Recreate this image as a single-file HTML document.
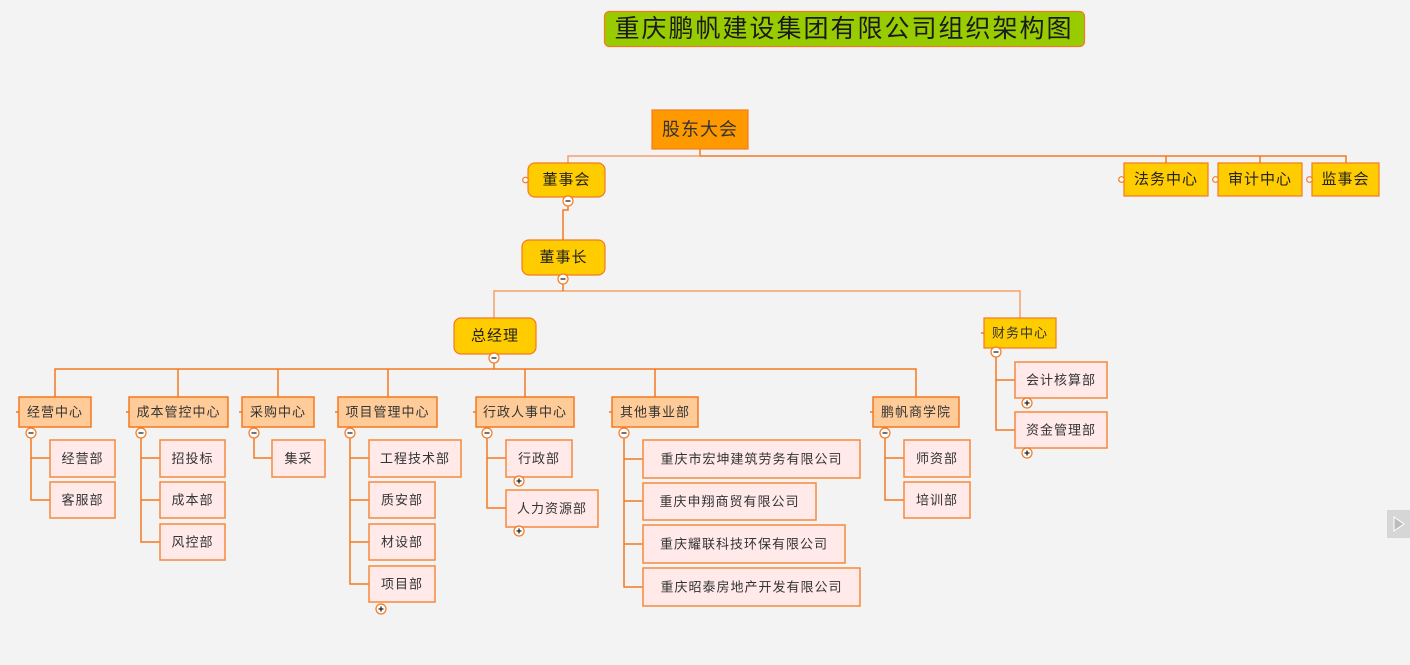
<!DOCTYPE html>
<html><head><meta charset="utf-8"><style>
html,body{margin:0;padding:0;background:#f3f3f3;}
svg{display:block;}
text{font-family:"Liberation Sans","Noto Sans CJK SC",sans-serif;text-anchor:middle;dominant-baseline:central;fill:#333;}
.ln{stroke:#f47920;stroke-width:1.5;fill:none;}
.lt{stroke:#f5a06a;stroke-width:1.5;fill:none;}
.y{fill:#ffcc00;stroke:#f47920;stroke-width:1.2;}
.o2{fill:#ffcc99;stroke:#f47920;stroke-width:1.5;}
.lf{fill:#ffe9e9;stroke:#f58a3c;stroke-width:1.5;}
.c{fill:#fff;stroke:#f47920;stroke-width:1.2;}
.t13{font-size:13px;letter-spacing:1px;}
.t15{font-size:15px;letter-spacing:1px;fill:#222;}
</style></head><body>
<svg width="1410" height="665" viewBox="0 0 1410 665" xmlns="http://www.w3.org/2000/svg">
<rect x="0" y="0" width="1410" height="665" fill="#f3f3f3"/>
<rect x="604.5" y="11.5" width="480" height="35" rx="5" fill="#99cc00" stroke="#f47920" stroke-width="1.2"/>
<text x="844" y="29" style="font-size:25px;letter-spacing:2px;fill:#1a1a1a">重庆鹏帆建设集团有限公司组织架构图</text>

<path class="ln" d="M700 149 V156 H1346 V163 M1166 156 V163 M1260 156 V163"/>
<path class="lt" d="M700 156 H568 V163"/>
<path class="ln" d="M568 197 V210 H563 V240"/>
<path class="lt" d="M494 318 V291 H1020 V318"/>
<path class="ln" d="M563 280 V291"/>
<path class="ln" d="M494 354 V369 M55 397 V369 H916 V397 M178 369 V397 M278 369 V397 M388 369 V397 M525 369 V397 M655 369 V397"/>

<path class="ln" d="M31 433 V500 H50 M31 458 H50"/>
<path class="ln" d="M141 433 V542 H160 M141 458 H160 M141 500 H160"/>
<path class="ln" d="M254 433 V458 H272"/>
<path class="ln" d="M350 433 V584 H369 M350 458 H369 M350 500 H369 M350 542 H369"/>
<path class="ln" d="M487 433 V508 H506 M487 458 H506"/>
<path class="ln" d="M624 433 V587 H643 M624 459 H643 M624 501 H643 M624 544 H643"/>
<path class="ln" d="M885 433 V500 H904 M885 458 H904"/>
<path class="ln" d="M996 352 V430 H1015 M996 380 H1015"/>

<rect x="652" y="110" width="96" height="39" fill="#ff9900" stroke="#f47920" stroke-width="1.2"/>
<text x="700" y="129.5" style="font-size:18px;letter-spacing:1px;fill:#333">股东大会</text>
<rect class="y" x="528" y="163" width="77" height="34" rx="7"/><text class="t15" x="566.5" y="180">董事会</text>
<rect class="y" x="522" y="240" width="83" height="35" rx="7"/><text class="t15" x="563.5" y="257.5">董事长</text>
<rect class="y" x="454" y="318" width="82" height="36" rx="7"/><text class="t15" x="495" y="336">总经理</text>
<rect class="y" x="1124" y="163" width="84" height="33"/><text class="t15" x="1166" y="179.5">法务中心</text>
<rect class="y" x="1218" y="163" width="84" height="33"/><text class="t15" x="1260" y="179.5">审计中心</text>
<rect class="y" x="1312" y="163" width="67" height="33"/><text class="t15" x="1345.5" y="179.5">监事会</text>
<rect class="y" x="984" y="318" width="72" height="30"/><text class="t13" x="1020" y="333">财务中心</text>

<rect class="o2" x="19" y="397" width="72" height="30"/><text class="t13" x="55" y="412">经营中心</text>
<rect class="o2" x="129" y="397" width="99" height="30"/><text class="t13" x="178.5" y="412">成本管控中心</text>
<rect class="o2" x="242" y="397" width="72" height="30"/><text class="t13" x="278" y="412">采购中心</text>
<rect class="o2" x="338" y="397" width="99" height="30"/><text class="t13" x="387.5" y="412">项目管理中心</text>
<rect class="o2" x="476" y="397" width="98" height="30"/><text class="t13" x="525" y="412">行政人事中心</text>
<rect class="o2" x="612" y="397" width="86" height="30"/><text class="t13" x="655" y="412">其他事业部</text>
<rect class="o2" x="873" y="397" width="86" height="30"/><text class="t13" x="916" y="412">鹏帆商学院</text>
<path class="ln" d="M16 412 H19 M126 412 H129 M239 412 H242 M335 412 H338 M473 412 H476 M609 412 H612 M870 412 H873 M981 333 H984"/>

<rect class="lf" x="50" y="440" width="65" height="37"/><text class="t13" x="82.5" y="458.5">经营部</text>
<rect class="lf" x="50" y="482" width="65" height="36"/><text class="t13" x="82.5" y="500">客服部</text>
<rect class="lf" x="160" y="440" width="65" height="37"/><text class="t13" x="192.5" y="458.5">招投标</text>
<rect class="lf" x="160" y="482" width="65" height="36"/><text class="t13" x="192.5" y="500">成本部</text>
<rect class="lf" x="160" y="524" width="65" height="36"/><text class="t13" x="192.5" y="542">风控部</text>
<rect class="lf" x="272" y="440" width="53" height="37"/><text class="t13" x="298.5" y="458.5">集采</text>
<rect class="lf" x="369" y="440" width="92" height="37"/><text class="t13" x="415" y="458.5">工程技术部</text>
<rect class="lf" x="369" y="482" width="66" height="36"/><text class="t13" x="402" y="500">质安部</text>
<rect class="lf" x="369" y="524" width="66" height="36"/><text class="t13" x="402" y="542">材设部</text>
<rect class="lf" x="369" y="566" width="66" height="36"/><text class="t13" x="402" y="584">项目部</text>
<rect class="lf" x="506" y="440" width="66" height="37"/><text class="t13" x="539" y="458.5">行政部</text>
<rect class="lf" x="506" y="490" width="92" height="37"/><text class="t13" x="552" y="508.5">人力资源部</text>
<rect class="lf" x="643" y="440" width="217" height="38"/><text class="t13" x="751.5" y="459">重庆市宏坤建筑劳务有限公司</text>
<rect class="lf" x="643" y="483" width="173" height="37"/><text class="t13" x="729.5" y="501.5">重庆申翔商贸有限公司</text>
<rect class="lf" x="643" y="525" width="202" height="38"/><text class="t13" x="744" y="544">重庆耀联科技环保有限公司</text>
<rect class="lf" x="643" y="568" width="217" height="38"/><text class="t13" x="751.5" y="587">重庆昭泰房地产开发有限公司</text>
<rect class="lf" x="904" y="440" width="66" height="37"/><text class="t13" x="937" y="458.5">师资部</text>
<rect class="lf" x="904" y="482" width="66" height="36"/><text class="t13" x="937" y="500">培训部</text>
<rect class="lf" x="1015" y="362" width="92" height="36"/><text class="t13" x="1061" y="380">会计核算部</text>
<rect class="lf" x="1015" y="412" width="92" height="36"/><text class="t13" x="1061" y="430">资金管理部</text>

<g>
<circle class="c" cx="31" cy="433" r="5"/><circle class="c" cx="141" cy="433" r="5"/><circle class="c" cx="254" cy="433" r="5"/>
<circle class="c" cx="350" cy="433" r="5"/><circle class="c" cx="487" cy="433" r="5"/><circle class="c" cx="624" cy="433" r="5"/>
<circle class="c" cx="885" cy="433" r="5"/><circle class="c" cx="996" cy="352" r="5"/><circle class="c" cx="568" cy="201" r="5"/>
<circle class="c" cx="563" cy="279" r="5"/><circle class="c" cx="494" cy="358" r="5"/>
</g>
<path stroke="#222" stroke-width="1.3" d="M28.5 433 H33.5 M138.5 433 H143.5 M251.5 433 H256.5 M347.5 433 H352.5 M484.5 433 H489.5 M621.5 433 H626.5 M882.5 433 H887.5 M993.5 352 H998.5 M565.5 201 H570.5 M560.5 279 H565.5 M491.5 358 H496.5"/>
<circle class="c" cx="381" cy="609" r="5"/><circle class="c" cx="519" cy="481" r="5"/><circle class="c" cx="519" cy="531" r="5"/>
<circle class="c" cx="1027" cy="403" r="5"/><circle class="c" cx="1027" cy="453" r="5"/>
<path stroke="#222" stroke-width="1.3" d="M378.5 609 H383.5 M381 606.5 V611.5 M516.5 481 H521.5 M519 478.5 V483.5 M516.5 531 H521.5 M519 528.5 V533.5 M1024.5 403 H1029.5 M1027 400.5 V405.5 M1024.5 453 H1029.5 M1027 450.5 V455.5"/>
<circle class="c" cx="525.5" cy="180" r="2.8"/><circle class="c" cx="1121.5" cy="179.5" r="2.8"/>
<circle class="c" cx="1215.5" cy="179.5" r="2.8"/><circle class="c" cx="1309.5" cy="179.5" r="2.8"/>

<rect x="1387" y="510" width="23" height="28" fill="#d6d6d6"/>
<path d="M1394 517 L1404 524 L1394 531 Z" fill="#bcbcbc" stroke="#fff" stroke-width="1"/>
</svg>
</body></html>
